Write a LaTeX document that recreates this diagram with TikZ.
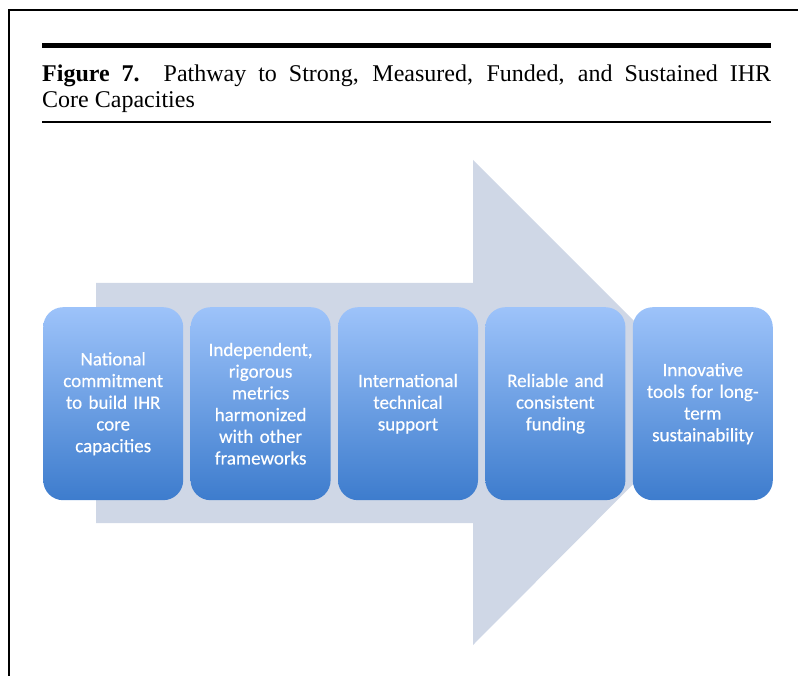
\documentclass[tikz,border=0pt]{standalone}
\usepackage{fontspec}
\setmainfont{Liberation Serif}
\newfontfamily\stepfont[FakeBold=0.4]{Carlito}
\usetikzlibrary{positioning}

\definecolor{arrowgray}{HTML}{CFD7E6}
\definecolor{steptop}{HTML}{9DC3FA}
\definecolor{stepbottom}{HTML}{3D7CCD}

\tikzset{
	stepbox/.style={rounded corners=20pt, top color=steptop, bottom color=stepbottom,
		draw=none, minimum width=140pt, minimum height=193pt, text width=136pt,
		align=center, text=white, inner sep=0pt,
		font=\stepfont\fontsize{19}{21.7}\selectfont},
	caption/.style={anchor=base west, inner sep=0pt, font=\fontsize{24}{27}\selectfont}
}

\begin{document}
\begin{tikzpicture}[x=1pt, y=-1pt]

	\useasboundingbox (0,0) rectangle (798,676);

	% frame
	\draw[line width = 2.5pt] (9,676) -- (9,10) -- (798,10);

	% caption
	\draw[line width = 5pt] (42,45.5) -- (771,45.5);
	\node[caption] (cap1) at (42,82) {\makebox[729pt][s]{\textbf{Figure 7.}\hspace{1em}Pathway to Strong, Measured, Funded, and Sustained IHR}};
	\node[caption] (cap2) at (42,108) {Core Capacities};
	\draw[line width = 1.2pt] (42,122) -- (771,122);

	% big arrow
	\coordinate (a) at (96,283);
	\coordinate (b) at (473,283);
	\coordinate (c) at (473,160);
	\coordinate (d) at (715,402);
	\coordinate (e) at (473,645);
	\coordinate (f) at (473,523);
	\coordinate (g) at (96,523);

	\fill[arrowgray] (a) -- (b) -- (c) -- (d) -- (e) -- (f) -- (g) -- cycle;

	% steps
	\node[stepbox, anchor=north west] (s1) at (43,307) {National\\commitment\\to build IHR\\core\\capacities};
	\node[stepbox, right = 7pt of s1] (s2) {Independent,\\rigorous\\metrics\\harmonized\\with other\\frameworks};
	\node[stepbox, right = 7pt of s2] (s3) {International\\technical\\support};
	\node[stepbox, right = 7pt of s3] (s4) {Reliable and\\consistent\\funding};
	\node[stepbox, right = 7pt of s4] (s5) {Innovative\\tools for long-\\term\\sustainability};

\end{tikzpicture}
\end{document}
